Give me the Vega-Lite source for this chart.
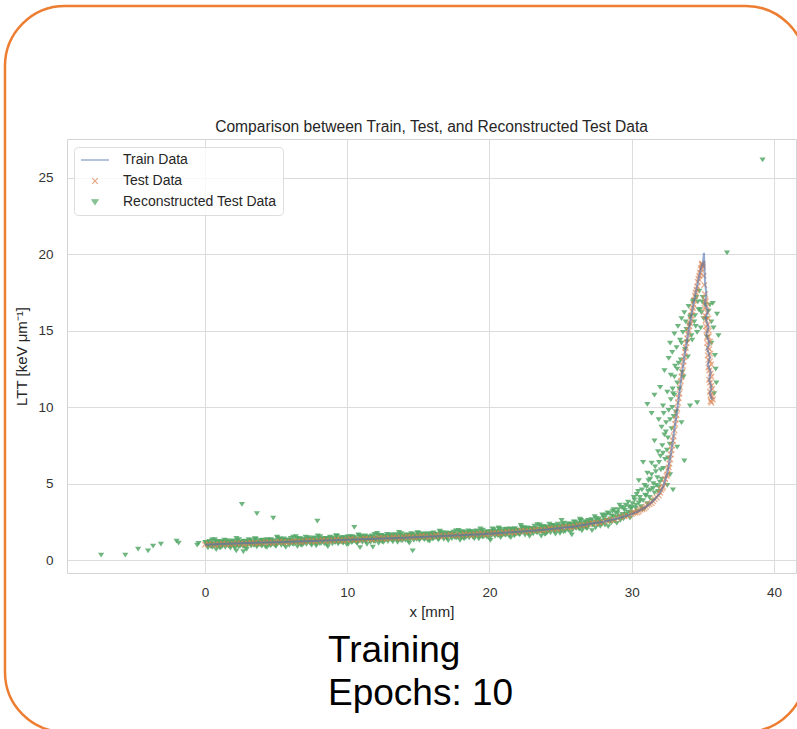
{
"$schema": "https://vega.github.io/schema/vega-lite/v6.json",
"width": 729, "height": 434,
"autosize": {"type": "none"},
"padding": {"left": 67, "top": 139, "right": 1, "bottom": 156},
"background": "white",
"config": {
  "font": "Liberation Sans",
  "view": {"stroke": "#d4d4d4", "strokeWidth": 1},
  "axis": {"grid": true, "gridColor": "#dcdcdc", "gridWidth": 1, "domain": false, "ticks": false, "labelFontSize": 13.5, "labelColor": "#333333", "titleFontSize": 15, "titleFontWeight": "normal", "titleColor": "#262626"}
},
"datasets": {
"train": [{"x":0,"y":1.0},{"x":1,"y":1.04},{"x":2,"y":1.08},{"x":3,"y":1.11},{"x":4,"y":1.14},{"x":5,"y":1.17},{"x":6,"y":1.2},{"x":7,"y":1.23},{"x":8,"y":1.26},{"x":9,"y":1.29},{"x":10,"y":1.32},{"x":11,"y":1.36},{"x":12,"y":1.39},{"x":13,"y":1.43},{"x":14,"y":1.46},{"x":15,"y":1.5},{"x":16,"y":1.54},{"x":17,"y":1.58},{"x":18,"y":1.62},{"x":19,"y":1.67},{"x":20,"y":1.72},{"x":21,"y":1.78},{"x":22,"y":1.85},{"x":23,"y":1.92},{"x":24,"y":2.0},{"x":25,"y":2.1},{"x":26,"y":2.2},{"x":27,"y":2.35},{"x":28,"y":2.5},{"x":29,"y":2.72},{"x":30,"y":3.0},{"x":30.5,"y":3.2},{"x":31,"y":3.48},{"x":31.5,"y":3.85},{"x":32,"y":4.4},{"x":32.25,"y":4.9},{"x":32.5,"y":5.7},{"x":32.75,"y":6.9},{"x":33,"y":8.5},{"x":33.25,"y":10.2},{"x":33.5,"y":12.0},{"x":33.75,"y":13.6},{"x":34,"y":15.0},{"x":34.25,"y":16.3},{"x":34.5,"y":17.5},{"x":34.75,"y":18.6},{"x":34.9,"y":19.2},{"x":35.0,"y":19.4},{"x":35.08,"y":20.1},{"x":35.12,"y":19.0},{"x":35.15,"y":18.2},{"x":35.25,"y":17.4},{"x":35.15,"y":16.8},{"x":35.35,"y":16.3},{"x":35.2,"y":15.8},{"x":35.4,"y":15.2},{"x":35.25,"y":14.8},{"x":35.45,"y":14.2},{"x":35.3,"y":13.8},{"x":35.5,"y":13.3},{"x":35.35,"y":12.8},{"x":35.55,"y":12.3},{"x":35.45,"y":11.8},{"x":35.6,"y":11.3},{"x":35.5,"y":10.9},{"x":35.65,"y":10.5}],
"test": [{"x":0,"y":1.0},{"x":0.5,"y":1.02},{"x":1,"y":1.03},{"x":1.5,"y":1.05},{"x":2,"y":1.06},{"x":2.5,"y":1.08},{"x":3,"y":1.1},{"x":3.5,"y":1.11},{"x":4,"y":1.13},{"x":4.5,"y":1.14},{"x":5,"y":1.16},{"x":5.5,"y":1.18},{"x":6,"y":1.19},{"x":6.5,"y":1.21},{"x":7,"y":1.22},{"x":7.5,"y":1.24},{"x":8,"y":1.26},{"x":8.5,"y":1.27},{"x":9,"y":1.29},{"x":9.5,"y":1.3},{"x":10,"y":1.32},{"x":10.5,"y":1.34},{"x":11,"y":1.36},{"x":11.5,"y":1.38},{"x":12,"y":1.4},{"x":12.5,"y":1.42},{"x":13,"y":1.44},{"x":13.5,"y":1.46},{"x":14,"y":1.48},{"x":14.5,"y":1.5},{"x":15,"y":1.52},{"x":15.5,"y":1.54},{"x":16,"y":1.56},{"x":16.5,"y":1.58},{"x":17,"y":1.6},{"x":17.5,"y":1.62},{"x":18,"y":1.64},{"x":18.5,"y":1.66},{"x":19,"y":1.68},{"x":19.5,"y":1.7},{"x":20,"y":1.72},{"x":20.5,"y":1.75},{"x":21,"y":1.79},{"x":21.5,"y":1.82},{"x":22,"y":1.86},{"x":22.5,"y":1.89},{"x":23,"y":1.93},{"x":23.5,"y":1.96},{"x":24,"y":2.0},{"x":24.5,"y":2.05},{"x":25,"y":2.1},{"x":25.5,"y":2.15},{"x":26,"y":2.2},{"x":26.5,"y":2.27},{"x":27,"y":2.35},{"x":27.5,"y":2.42},{"x":28,"y":2.5},{"x":28.5,"y":2.61},{"x":29,"y":2.73},{"x":29.5,"y":2.86},{"x":30,"y":3.0},
{"x":0.25,"y":1.05},{"x":0.75,"y":0.99},{"x":1.25,"y":1.07},{"x":1.75,"y":1.02},{"x":2.25,"y":1.1},{"x":2.75,"y":1.05},{"x":3.25,"y":1.13},{"x":3.75,"y":1.08},{"x":4.25,"y":1.16},{"x":4.75,"y":1.11},{"x":5.25,"y":1.2},{"x":5.75,"y":1.15},{"x":6.25,"y":1.23},{"x":6.75,"y":1.18},{"x":7.25,"y":1.26},{"x":7.75,"y":1.21},{"x":8.25,"y":1.3},{"x":8.75,"y":1.24},{"x":9.25,"y":1.33},{"x":9.75,"y":1.27},{"x":10.25,"y":1.37},{"x":10.75,"y":1.31},{"x":11.25,"y":1.41},{"x":11.75,"y":1.35},{"x":12.25,"y":1.45},{"x":12.75,"y":1.39},{"x":13.25,"y":1.49},{"x":13.75,"y":1.43},{"x":14.25,"y":1.53},{"x":14.75,"y":1.47},{"x":15.25,"y":1.57},{"x":15.75,"y":1.51},{"x":16.25,"y":1.61},{"x":16.75,"y":1.55},{"x":17.25,"y":1.65},{"x":17.75,"y":1.59},{"x":18.25,"y":1.69},{"x":18.75,"y":1.63},{"x":19.25,"y":1.73},{"x":19.75,"y":1.67},{"x":20.25,"y":1.77},{"x":20.75,"y":1.73},{"x":21.25,"y":1.84},{"x":21.75,"y":1.8},{"x":22.25,"y":1.91},{"x":22.75,"y":1.87},{"x":23.25,"y":1.98},{"x":23.75,"y":1.94},{"x":24.25,"y":2.07},{"x":24.75,"y":2.03},{"x":25.25,"y":2.16},{"x":25.75,"y":2.14},{"x":26.25,"y":2.27},{"x":26.75,"y":2.27},{"x":27.25,"y":2.42},{"x":27.75,"y":2.42},{"x":28.25,"y":2.59},{"x":28.75,"y":2.63},{"x":29.25,"y":2.83},{"x":29.75,"y":2.9},
{"x":30.25,"y":3.1},{"x":30.5,"y":3.2},{"x":30.75,"y":3.33},{"x":31,"y":3.48},{"x":31.25,"y":3.65},{"x":31.5,"y":3.85},{"x":31.75,"y":4.1},{"x":32,"y":4.4},{"x":32.15,"y":4.7},{"x":32.3,"y":5.05},{"x":32.45,"y":5.5},{"x":32.6,"y":6.05},{"x":32.7,"y":6.6},{"x":32.8,"y":7.2},{"x":32.9,"y":7.8},{"x":33.0,"y":8.5},{"x":33.1,"y":9.2},{"x":33.2,"y":9.9},{"x":33.3,"y":10.6},{"x":33.4,"y":11.3},{"x":33.5,"y":12.0},{"x":33.6,"y":12.7},{"x":33.7,"y":13.3},{"x":33.8,"y":13.9},{"x":33.9,"y":14.5},{"x":34.0,"y":15.0},{"x":34.1,"y":15.5},{"x":34.2,"y":16.0},{"x":34.3,"y":16.5},{"x":34.4,"y":17.0},{"x":34.5,"y":17.5},{"x":34.6,"y":17.9},{"x":34.7,"y":18.4},{"x":34.8,"y":18.8},{"x":34.9,"y":19.1},{"x":34.95,"y":19.3},{"x":35.0,"y":19.2},{"x":35.05,"y":18.6},{"x":35.1,"y":18.0},
{"x":30.1,"y":3.1},{"x":30.4,"y":3.12},{"x":30.6,"y":3.3},{"x":30.9,"y":3.38},{"x":31.1,"y":3.6},{"x":31.4,"y":3.72},{"x":31.6,"y":4.0},{"x":31.9,"y":4.22},{"x":32.05,"y":4.6},{"x":32.2,"y":4.8},{"x":32.35,"y":5.3},{"x":32.5,"y":5.6},{"x":32.55,"y":5.9},{"x":32.65,"y":6.3},{"x":32.75,"y":6.9},{"x":32.85,"y":7.5},{"x":32.95,"y":8.1},{"x":33.05,"y":8.9},{"x":33.15,"y":9.5},{"x":33.25,"y":10.3},{"x":33.35,"y":10.9},{"x":33.45,"y":11.7},{"x":33.55,"y":12.3},{"x":33.65,"y":13.0},{"x":33.75,"y":13.6},{"x":33.85,"y":14.2},{"x":33.95,"y":14.8},{"x":34.05,"y":15.3},{"x":34.15,"y":15.7},{"x":34.25,"y":16.3},{"x":34.35,"y":16.7},{"x":34.45,"y":17.3},{"x":34.55,"y":17.7},{"x":34.65,"y":18.2},{"x":34.75,"y":18.6},{"x":34.85,"y":19.0},{"x":34.92,"y":19.4},{"x":34.98,"y":19.35},
{"x":35.15,"y":17.4},{"x":35.2,"y":16.9},{"x":35.12,"y":16.5},{"x":35.3,"y":16.2},{"x":35.2,"y":15.7},{"x":35.35,"y":15.4},{"x":35.25,"y":15.0},{"x":35.4,"y":14.6},{"x":35.3,"y":14.2},{"x":35.45,"y":13.8},{"x":35.35,"y":13.4},{"x":35.5,"y":13.0},{"x":35.4,"y":12.6},{"x":35.55,"y":12.2},{"x":35.45,"y":11.8},{"x":35.6,"y":11.4},{"x":35.5,"y":11.0},{"x":35.65,"y":10.7},{"x":35.55,"y":10.4},
{"x":35.18,"y":17.0},{"x":35.28,"y":16.6},{"x":35.15,"y":16.0},{"x":35.38,"y":15.8},{"x":35.22,"y":15.3},{"x":35.42,"y":15.0},{"x":35.3,"y":14.6},{"x":35.5,"y":14.3},{"x":35.35,"y":13.9},{"x":35.52,"y":13.5},{"x":35.4,"y":13.1},{"x":35.58,"y":12.8},{"x":35.45,"y":12.4},{"x":35.6,"y":12.0},{"x":35.5,"y":11.6},{"x":35.65,"y":11.2},{"x":35.55,"y":10.8},{"x":35.7,"y":10.5},{"x":35.6,"y":10.3}],
"recon": [
{"x":0.07,"y":1.14},{"x":0.21,"y":0.81},{"x":0.36,"y":1.07},{"x":0.5,"y":1.32},{"x":0.64,"y":0.94},{"x":0.79,"y":0.69},{"x":0.93,"y":1.2},
{"x":1.07,"y":1.07},{"x":1.21,"y":0.9},{"x":1.36,"y":1.31},{"x":1.5,"y":1.01},{"x":1.64,"y":1.14},{"x":1.79,"y":0.78},{"x":1.93,"y":1.26},
{"x":2.07,"y":0.97},{"x":2.21,"y":1.43},{"x":2.36,"y":0.89},{"x":2.5,"y":1.15},{"x":2.64,"y":1.06},{"x":2.79,"y":1.22},{"x":2.93,"y":0.7},
{"x":3.07,"y":1.34},{"x":3.21,"y":1.05},{"x":3.36,"y":1.22},{"x":3.5,"y":1.4},{"x":3.64,"y":0.87},{"x":3.79,"y":1.11},{"x":3.93,"y":0.98},
{"x":4.07,"y":1.31},{"x":4.21,"y":1.18},{"x":4.36,"y":0.84},{"x":4.5,"y":1.22},{"x":4.64,"y":1.34},{"x":4.79,"y":1.05},{"x":4.93,"y":0.97},
{"x":5.07,"y":1.5},{"x":5.21,"y":1.19},{"x":5.36,"y":0.96},{"x":5.5,"y":1.31},{"x":5.64,"y":1.13},{"x":5.79,"y":1.3},{"x":5.93,"y":0.97},
{"x":6.07,"y":1.26},{"x":6.21,"y":1.51},{"x":6.36,"y":1.13},{"x":6.5,"y":0.88},{"x":6.64,"y":1.39},{"x":6.79,"y":1.23},{"x":6.93,"y":1.06},
{"x":7.07,"y":1.5},{"x":7.21,"y":1.2},{"x":7.36,"y":1.33},{"x":7.5,"y":0.97},{"x":7.64,"y":1.45},{"x":7.79,"y":1.13},{"x":7.93,"y":1.59},
{"x":8.07,"y":1.08},{"x":8.21,"y":1.34},{"x":8.36,"y":1.25},{"x":8.5,"y":1.41},{"x":8.64,"y":0.89},{"x":8.79,"y":1.5},{"x":8.93,"y":1.21},
{"x":9.07,"y":1.41},{"x":9.21,"y":1.59},{"x":9.36,"y":1.06},{"x":9.5,"y":1.3},{"x":9.64,"y":1.17},{"x":9.79,"y":1.47},{"x":9.93,"y":1.34},
{"x":10.07,"y":1.04},{"x":10.21,"y":1.42},{"x":10.36,"y":1.54},{"x":10.5,"y":1.25},{"x":10.64,"y":1.17},{"x":10.79,"y":1.66},{"x":10.93,"y":1.35},
{"x":11.07,"y":1.16},{"x":11.21,"y":1.51},{"x":11.36,"y":1.33},{"x":11.5,"y":1.5},{"x":11.64,"y":1.17},{"x":11.79,"y":1.43},{"x":11.93,"y":1.68},
{"x":12.07,"y":1.34},{"x":12.21,"y":1.09},{"x":12.36,"y":1.6},{"x":12.5,"y":1.44},{"x":12.64,"y":1.27},{"x":12.79,"y":1.68},{"x":12.93,"y":1.38},
{"x":13.07,"y":1.55},{"x":13.21,"y":1.19},{"x":13.36,"y":1.67},{"x":13.5,"y":1.35},{"x":13.64,"y":1.81},{"x":13.79,"y":1.27},{"x":13.93,"y":1.53},
{"x":14.07,"y":1.48},{"x":14.21,"y":1.64},{"x":14.36,"y":1.12},{"x":14.5,"y":1.73},{"x":14.64,"y":1.44},{"x":14.79,"y":1.61},{"x":14.93,"y":1.79},
{"x":15.07,"y":1.3},{"x":15.21,"y":1.54},{"x":15.36,"y":1.41},{"x":15.5,"y":1.71},{"x":15.64,"y":1.58},{"x":15.79,"y":1.24},{"x":15.93,"y":1.62},
{"x":16.07,"y":1.78},{"x":16.21,"y":1.49},{"x":16.36,"y":1.41},{"x":16.5,"y":1.9},{"x":16.64,"y":1.59},{"x":16.79,"y":1.36},{"x":16.93,"y":1.71},
{"x":17.07,"y":1.57},{"x":17.21,"y":1.74},{"x":17.36,"y":1.41},{"x":17.5,"y":1.67},{"x":17.64,"y":1.92},{"x":17.79,"y":1.54},{"x":17.93,"y":1.29},
{"x":18.07,"y":1.84},{"x":18.21,"y":1.68},{"x":18.36,"y":1.51},{"x":18.5,"y":1.92},{"x":18.64,"y":1.62},{"x":18.79,"y":1.75},{"x":18.93,"y":1.39},
{"x":19.07,"y":1.91},{"x":19.21,"y":1.59},{"x":19.36,"y":2.05},{"x":19.5,"y":1.51},{"x":19.64,"y":1.77},{"x":19.79,"y":1.68},{"x":19.93,"y":1.84},
{"x":20.07,"y":1.3},{"x":20.21,"y":2.04},{"x":20.36,"y":1.69},{"x":20.5,"y":1.89},{"x":20.64,"y":2.11},{"x":20.79,"y":1.47},{"x":20.93,"y":1.76},
{"x":21.07,"y":1.67},{"x":21.21,"y":2.03},{"x":21.36,"y":1.88},{"x":21.5,"y":1.47},{"x":21.64,"y":1.93},{"x":21.79,"y":2.07},{"x":21.93,"y":1.72},
{"x":22.07,"y":1.7},{"x":22.21,"y":2.28},{"x":22.36,"y":1.91},{"x":22.5,"y":1.64},{"x":22.64,"y":2.06},{"x":22.79,"y":1.84},{"x":22.93,"y":2.04},
{"x":23.07,"y":1.72},{"x":23.21,"y":2.03},{"x":23.36,"y":2.33},{"x":23.5,"y":1.87},{"x":23.64,"y":1.57},{"x":23.79,"y":2.19},{"x":23.93,"y":1.99},
{"x":24.07,"y":1.81},{"x":24.21,"y":2.36},{"x":24.36,"y":1.99},{"x":24.5,"y":2.17},{"x":24.64,"y":1.71},{"x":24.79,"y":2.35},{"x":24.93,"y":1.95},
{"x":25.07,"y":2.6},{"x":25.21,"y":1.85},{"x":25.36,"y":2.24},{"x":25.5,"y":2.12},{"x":25.64,"y":2.36},{"x":25.79,"y":1.65},{"x":25.93,"y":2.51},
{"x":26.07,"y":2.12},{"x":26.21,"y":2.4},{"x":26.36,"y":2.69},{"x":26.5,"y":1.92},{"x":26.64,"y":2.3},{"x":26.79,"y":2.12},{"x":26.93,"y":2.6},
{"x":27.07,"y":2.42},{"x":27.21,"y":1.93},{"x":27.36,"y":2.52},{"x":27.5,"y":2.73},{"x":27.64,"y":2.31},{"x":27.79,"y":2.21},{"x":27.93,"y":2.97},
{"x":0.14,"y":0.98},{"x":0.29,"y":1.11},{"x":0.43,"y":0.87},{"x":0.57,"y":1.03},{"x":0.71,"y":1.24},{"x":0.86,"y":0.9},{"x":1.0,"y":0.96},
{"x":1.14,"y":1.19},{"x":1.29,"y":1.11},{"x":1.43,"y":0.84},{"x":1.57,"y":1.08},{"x":1.71,"y":1.17},{"x":1.86,"y":0.96},{"x":2.0,"y":1.05},
{"x":2.14,"y":0.91},{"x":2.29,"y":1.28},{"x":2.43,"y":1.16},{"x":2.57,"y":1.04},{"x":2.71,"y":1.24},{"x":2.86,"y":0.81},{"x":3.0,"y":1.18},
{"x":3.14,"y":1.1},{"x":3.29,"y":1.16},{"x":3.43,"y":0.98},{"x":3.57,"y":1.36},{"x":3.71,"y":1.03},{"x":3.86,"y":1.26},{"x":4.0,"y":0.92},
{"x":4.14,"y":1.2},{"x":4.29,"y":1.11},{"x":4.43,"y":1.32},{"x":4.57,"y":1.03},{"x":4.71,"y":1.15},{"x":4.86,"y":1.27},{"x":5.0,"y":0.91},
{"x":5.14,"y":1.12},{"x":5.29,"y":1.39},{"x":5.43,"y":1.22},{"x":5.57,"y":1.03},{"x":5.71,"y":1.26},{"x":5.86,"y":1.14},{"x":6.0,"y":1.27},
{"x":6.14,"y":1.06},{"x":6.29,"y":1.22},{"x":6.43,"y":1.43},{"x":6.57,"y":1.09},{"x":6.71,"y":1.15},{"x":6.86,"y":1.35},{"x":7.0,"y":1.27},
{"x":7.14,"y":1.03},{"x":7.29,"y":1.27},{"x":7.43,"y":1.36},{"x":7.57,"y":1.15},{"x":7.71,"y":1.24},{"x":7.86,"y":1.07},{"x":8.0,"y":1.44},
{"x":8.14,"y":1.35},{"x":8.29,"y":1.23},{"x":8.43,"y":1.43},{"x":8.57,"y":1.0},{"x":8.71,"y":1.37},{"x":8.86,"y":1.26},{"x":9.0,"y":1.32},
{"x":9.14,"y":1.17},{"x":9.29,"y":1.55},{"x":9.43,"y":1.22},{"x":9.57,"y":1.45},{"x":9.71,"y":1.11},{"x":9.86,"y":1.36},{"x":10.0,"y":1.27},
{"x":10.14,"y":1.52},{"x":10.29,"y":1.23},{"x":10.43,"y":1.35},{"x":10.57,"y":1.47},{"x":10.71,"y":1.11},{"x":10.86,"y":1.28},{"x":11.0,"y":1.55},
{"x":11.14,"y":1.42},{"x":11.29,"y":1.23},{"x":11.43,"y":1.46},{"x":11.57,"y":1.34},{"x":11.71,"y":1.47},{"x":11.86,"y":1.23},{"x":12.0,"y":1.39},
{"x":12.14,"y":1.64},{"x":12.29,"y":1.3},{"x":12.43,"y":1.36},{"x":12.57,"y":1.56},{"x":12.71,"y":1.48},{"x":12.86,"y":1.21},{"x":13.0,"y":1.45},
{"x":13.14,"y":1.58},{"x":13.29,"y":1.37},{"x":13.43,"y":1.46},{"x":13.57,"y":1.29},{"x":13.71,"y":1.66},{"x":13.86,"y":1.54},{"x":14.0,"y":1.42},
{"x":14.14,"y":1.66},{"x":14.29,"y":1.23},{"x":14.43,"y":1.6},{"x":14.57,"y":1.49},{"x":14.71,"y":1.55},{"x":14.86,"y":1.37},{"x":15.0,"y":1.75},
{"x":15.14,"y":1.46},{"x":15.29,"y":1.69},{"x":15.43,"y":1.35},{"x":15.57,"y":1.6},{"x":15.71,"y":1.51},{"x":15.86,"y":1.72},{"x":16.0,"y":1.43},
{"x":16.14,"y":1.59},{"x":16.29,"y":1.71},{"x":16.43,"y":1.35},{"x":16.57,"y":1.52},{"x":16.71,"y":1.79},{"x":16.86,"y":1.62},{"x":17.0,"y":1.43},
{"x":17.14,"y":1.7},{"x":17.29,"y":1.58},{"x":17.43,"y":1.71},{"x":17.57,"y":1.47},{"x":17.71,"y":1.63},{"x":17.86,"y":1.84},{"x":18.0,"y":1.5},
{"x":18.14,"y":1.6},{"x":18.29,"y":1.8},{"x":18.43,"y":1.72},{"x":18.57,"y":1.45},{"x":18.71,"y":1.69},{"x":18.86,"y":1.78},{"x":19.0,"y":1.57},
{"x":19.14,"y":1.7},{"x":19.29,"y":1.53},{"x":19.43,"y":1.9},{"x":19.57,"y":1.78},{"x":19.71,"y":1.66},{"x":19.86,"y":1.86},{"x":20.0,"y":1.43},
{"x":20.14,"y":1.86},{"x":20.29,"y":1.75},{"x":20.43,"y":1.81},{"x":20.57,"y":1.63},{"x":20.71,"y":2.01},{"x":20.86,"y":1.68},{"x":21.0,"y":1.91},
{"x":21.14,"y":1.64},{"x":21.29,"y":1.89},{"x":21.43,"y":1.8},{"x":21.57,"y":2.01},{"x":21.71,"y":1.72},{"x":21.86,"y":1.84},{"x":22.0,"y":1.96},
{"x":22.14,"y":1.67},{"x":22.29,"y":1.84},{"x":22.43,"y":2.11},{"x":22.57,"y":1.94},{"x":22.71,"y":1.75},{"x":22.86,"y":1.98},{"x":23.0,"y":1.86},
{"x":23.14,"y":2.06},{"x":23.29,"y":1.82},{"x":23.43,"y":1.98},{"x":23.57,"y":2.19},{"x":23.71,"y":1.85},{"x":23.86,"y":1.91},{"x":24.0,"y":2.11},
{"x":24.14,"y":2.08},{"x":24.29,"y":1.78},{"x":24.43,"y":2.08},{"x":24.57,"y":2.2},{"x":24.71,"y":1.96},{"x":24.86,"y":2.09},{"x":25.0,"y":1.9},
{"x":25.14,"y":2.37},{"x":25.29,"y":2.23},{"x":25.43,"y":2.09},{"x":25.57,"y":2.37},{"x":25.71,"y":1.82},{"x":25.86,"y":2.32},{"x":26.0,"y":2.19},
{"x":26.14,"y":2.29},{"x":26.29,"y":2.06},{"x":26.43,"y":2.61},{"x":26.57,"y":2.18},{"x":26.71,"y":2.52},{"x":26.86,"y":2.06},{"x":27.0,"y":2.43},
{"x":0.03,"y":1.15},{"x":0.17,"y":0.95},{"x":0.32,"y":1.23},{"x":0.46,"y":0.91},{"x":0.6,"y":1.06},{"x":0.75,"y":1.01},{"x":0.89,"y":1.1},
{"x":1.03,"y":0.82},{"x":1.17,"y":1.19},{"x":1.32,"y":1.01},{"x":1.46,"y":1.12},{"x":1.6,"y":1.22},{"x":1.75,"y":0.91},{"x":1.89,"y":1.05},
{"x":2.03,"y":1.0},{"x":2.17,"y":1.18},{"x":2.32,"y":1.1},{"x":2.46,"y":0.9},{"x":2.6,"y":1.13},{"x":2.75,"y":1.2},{"x":2.89,"y":1.03},
{"x":3.03,"y":1.01},{"x":3.17,"y":1.3},{"x":3.32,"y":1.12},{"x":3.46,"y":0.98},{"x":3.6,"y":1.19},{"x":3.75,"y":1.08},{"x":3.89,"y":1.18},
{"x":4.03,"y":1.01},{"x":4.17,"y":1.17},{"x":4.32,"y":1.32},{"x":4.46,"y":1.09},{"x":4.6,"y":0.94},{"x":4.75,"y":1.25},{"x":4.89,"y":1.15},
{"x":5.03,"y":1.09},{"x":5.17,"y":1.34},{"x":5.32,"y":1.16},{"x":5.46,"y":1.23},{"x":5.6,"y":1.02},{"x":5.75,"y":1.31},{"x":5.89,"y":1.11},
{"x":6.03,"y":1.42},{"x":6.17,"y":1.1},{"x":6.32,"y":1.25},{"x":6.46,"y":1.2},{"x":6.6,"y":1.29},{"x":6.75,"y":0.98},{"x":6.89,"y":1.35},
{"x":7.03,"y":1.2},{"x":7.17,"y":1.31},{"x":7.32,"y":1.41},{"x":7.46,"y":1.1},{"x":7.6,"y":1.24},{"x":7.75,"y":1.16},{"x":7.89,"y":1.34},
{"x":8.03,"y":1.29},{"x":8.17,"y":1.09},{"x":8.32,"y":1.32},{"x":8.46,"y":1.39},{"x":8.6,"y":1.22},{"x":8.75,"y":1.17},{"x":8.89,"y":1.46},
{"x":9.03,"y":1.31},{"x":9.17,"y":1.17},{"x":9.32,"y":1.38},{"x":9.46,"y":1.27},{"x":9.6,"y":1.37},{"x":9.75,"y":1.17},{"x":9.89,"y":1.33},
{"x":10.03,"y":1.52},{"x":10.17,"y":1.29},{"x":10.32,"y":1.14},{"x":10.46,"y":1.45},{"x":10.6,"y":1.35},{"x":10.75,"y":1.25},{"x":10.89,"y":1.5},
{"x":11.03,"y":1.36},{"x":11.17,"y":1.43},{"x":11.32,"y":1.22},{"x":11.46,"y":1.51},{"x":11.6,"y":1.31},{"x":11.75,"y":1.59},{"x":11.89,"y":1.27},
{"x":12.03,"y":1.46},{"x":12.17,"y":1.41},{"x":12.32,"y":1.5},{"x":12.46,"y":1.19},{"x":12.6,"y":1.56},{"x":12.75,"y":1.38},{"x":12.89,"y":1.49},
{"x":13.03,"y":1.63},{"x":13.17,"y":1.32},{"x":13.32,"y":1.46},{"x":13.46,"y":1.38},{"x":13.6,"y":1.56},{"x":13.75,"y":1.48},{"x":13.89,"y":1.28},
{"x":14.03,"y":1.55},{"x":14.17,"y":1.62},{"x":14.32,"y":1.45},{"x":14.46,"y":1.4},{"x":14.6,"y":1.69},{"x":14.75,"y":1.51},{"x":14.89,"y":1.37},
{"x":15.03,"y":1.62},{"x":15.17,"y":1.51},{"x":15.32,"y":1.61},{"x":15.46,"y":1.41},{"x":15.6,"y":1.57},{"x":15.75,"y":1.72},{"x":15.89,"y":1.49},
{"x":16.03,"y":1.38},{"x":16.17,"y":1.69},{"x":16.32,"y":1.59},{"x":16.46,"y":1.49},{"x":16.6,"y":1.74},{"x":16.75,"y":1.56},{"x":16.89,"y":1.63},
{"x":17.03,"y":1.46},{"x":17.17,"y":1.75},{"x":17.32,"y":1.55},{"x":17.46,"y":1.83},{"x":17.6,"y":1.51},{"x":17.75,"y":1.66},{"x":17.89,"y":1.61},
{"x":18.03,"y":1.74},{"x":18.17,"y":1.43},{"x":18.32,"y":1.8},{"x":18.46,"y":1.62},{"x":18.6,"y":1.73},{"x":18.75,"y":1.83},{"x":18.89,"y":1.52},
{"x":19.03,"y":1.7},{"x":19.17,"y":1.62},{"x":19.32,"y":1.8},{"x":19.46,"y":1.72},{"x":19.6,"y":1.52},{"x":19.75,"y":1.75},{"x":19.89,"y":1.82},
{"x":20.03,"y":1.7},{"x":20.17,"y":1.64},{"x":20.32,"y":1.99},{"x":20.46,"y":1.77},{"x":20.6,"y":1.6},{"x":20.75,"y":1.86},{"x":20.89,"y":1.72},
{"x":21.03,"y":1.91},{"x":21.17,"y":1.67},{"x":21.32,"y":1.87},{"x":21.46,"y":2.05},{"x":21.6,"y":1.77},{"x":21.75,"y":1.59},{"x":21.89,"y":1.96},
{"x":22.03,"y":1.91},{"x":22.17,"y":1.79},{"x":22.32,"y":2.09},{"x":22.46,"y":1.88},{"x":22.6,"y":1.96},{"x":22.75,"y":1.71},{"x":22.89,"y":2.06},
{"x":23.03,"y":1.89},{"x":23.17,"y":2.22},{"x":23.32,"y":1.84},{"x":23.46,"y":2.02},{"x":23.6,"y":1.96},{"x":23.75,"y":2.07},{"x":23.89,"y":1.69},
{"x":24.03,"y":2.18},{"x":24.17,"y":1.97},{"x":24.32,"y":2.12},{"x":24.46,"y":2.27},{"x":24.6,"y":1.88},{"x":24.75,"y":2.08},{"x":24.89,"y":1.99},
{"x":25.03,"y":2.24},{"x":25.17,"y":2.15},{"x":25.32,"y":1.88},{"x":25.46,"y":2.22},{"x":25.6,"y":2.33},{"x":25.75,"y":2.11},{"x":25.89,"y":2.05},
{"x":26.03,"y":2.49},{"x":26.17,"y":2.25},{"x":26.32,"y":2.05},{"x":26.46,"y":2.39},{"x":26.6,"y":2.24},{"x":26.75,"y":2.42},{"x":26.89,"y":2.13},
{"x":27.03,"y":2.4},{"x":27.17,"y":2.65},{"x":27.32,"y":2.32},{"x":27.46,"y":2.12},{"x":27.6,"y":2.61},{"x":27.75,"y":2.48},{"x":27.89,"y":2.34},
{"x":0.1,"y":1.15},{"x":0.25,"y":1.01},{"x":0.39,"y":1.09},{"x":0.54,"y":0.85},{"x":0.68,"y":1.35},{"x":0.82,"y":0.92},{"x":0.96,"y":1.22},
{"x":1.1,"y":0.8},{"x":1.25,"y":1.13},{"x":1.39,"y":1.01},{"x":1.54,"y":1.28},{"x":1.68,"y":0.91},{"x":1.82,"y":1.06},{"x":1.96,"y":1.22},
{"x":2.1,"y":0.78},{"x":2.25,"y":1.0},{"x":2.39,"y":1.35},{"x":2.54,"y":1.13},{"x":2.68,"y":0.88},{"x":2.82,"y":1.18},{"x":2.96,"y":1.03},
{"x":3.1,"y":1.23},{"x":3.25,"y":0.91},{"x":3.39,"y":1.12},{"x":3.54,"y":1.4},{"x":3.68,"y":0.95},{"x":3.82,"y":1.03},{"x":3.96,"y":1.29},
{"x":4.1,"y":1.22},{"x":4.25,"y":0.87},{"x":4.39,"y":1.18},{"x":4.54,"y":1.3},{"x":4.68,"y":1.02},{"x":4.82,"y":1.14},{"x":4.96,"y":0.92},
{"x":5.1,"y":1.44},{"x":5.25,"y":1.28},{"x":5.39,"y":1.13},{"x":5.54,"y":1.39},{"x":5.68,"y":0.83},{"x":5.82,"y":1.31},{"x":5.96,"y":1.17},
{"x":6.1,"y":1.28},{"x":6.25,"y":1.04},{"x":6.39,"y":1.54},{"x":6.54,"y":1.11},{"x":6.68,"y":1.41},{"x":6.82,"y":0.96},{"x":6.96,"y":1.29},
{"x":7.1,"y":1.2},{"x":7.25,"y":1.47},{"x":7.39,"y":1.1},{"x":7.54,"y":1.25},{"x":7.68,"y":1.41},{"x":7.82,"y":0.94},{"x":7.96,"y":1.16},
{"x":8.1,"y":1.54},{"x":8.25,"y":1.32},{"x":8.39,"y":1.07},{"x":8.54,"y":1.37},{"x":8.68,"y":1.22},{"x":8.82,"y":1.39},{"x":8.96,"y":1.07},
{"x":9.1,"y":1.31},{"x":9.25,"y":1.59},{"x":9.39,"y":1.14},{"x":9.54,"y":1.22},{"x":9.68,"y":1.48},{"x":9.82,"y":1.38},{"x":9.96,"y":1.03},
{"x":10.1,"y":1.38},{"x":10.25,"y":1.5},{"x":10.39,"y":1.22},{"x":10.54,"y":1.34},{"x":10.68,"y":1.12},{"x":10.82,"y":1.6},{"x":10.96,"y":1.44},
{"x":11.1,"y":1.33},{"x":11.25,"y":1.59},{"x":11.39,"y":1.03},{"x":11.54,"y":1.51},{"x":11.68,"y":1.37},{"x":11.82,"y":1.45},{"x":11.96,"y":1.21},
{"x":12.1,"y":1.75},{"x":12.25,"y":1.32},{"x":12.39,"y":1.62},{"x":12.54,"y":1.17},{"x":12.68,"y":1.5},{"x":12.82,"y":1.38},{"x":12.96,"y":1.65},
{"x":13.1,"y":1.32},{"x":13.25,"y":1.47},{"x":13.39,"y":1.63},{"x":13.54,"y":1.16},{"x":13.68,"y":1.38},{"x":13.82,"y":1.73},{"x":13.96,"y":1.51},
{"x":14.1,"y":1.3},{"x":14.25,"y":1.6},{"x":14.39,"y":1.45},{"x":14.54,"y":1.62},{"x":14.68,"y":1.3},{"x":14.82,"y":1.51},{"x":14.96,"y":1.79},
{"x":15.1,"y":1.38},{"x":15.25,"y":1.46},{"x":15.39,"y":1.72},{"x":15.54,"y":1.62},{"x":15.68,"y":1.27},{"x":15.82,"y":1.58},{"x":15.96,"y":1.7},
{"x":16.1,"y":1.46},{"x":16.25,"y":1.58},{"x":16.39,"y":1.36},{"x":16.54,"y":1.84},{"x":16.68,"y":1.68},{"x":16.82,"y":1.53},{"x":16.96,"y":1.79},
{"x":17.1,"y":1.27},{"x":17.25,"y":1.75},{"x":17.39,"y":1.61},{"x":17.54,"y":1.69},{"x":17.68,"y":1.45},{"x":17.82,"y":1.95},{"x":17.96,"y":1.52},
{"x":18.1,"y":1.86},{"x":18.25,"y":1.41},{"x":18.39,"y":1.74},{"x":18.54,"y":1.62},{"x":18.68,"y":1.89},{"x":18.82,"y":1.52},{"x":18.96,"y":1.67},
{"x":19.1,"y":1.87},{"x":19.25,"y":1.4},{"x":19.39,"y":1.62},{"x":19.54,"y":1.97},{"x":19.68,"y":1.75},{"x":19.82,"y":1.5},{"x":19.96,"y":1.8},
{"x":20.1,"y":1.71},{"x":20.25,"y":1.88},{"x":20.39,"y":1.56},{"x":20.54,"y":1.77},{"x":20.68,"y":2.05},{"x":20.82,"y":1.6},{"x":20.96,"y":1.68},
{"x":21.1,"y":2.01},{"x":21.25,"y":1.91},{"x":21.39,"y":1.56},{"x":21.54,"y":1.87},{"x":21.68,"y":1.99},{"x":21.82,"y":1.71},{"x":21.96,"y":1.83},
{"x":22.1,"y":1.68},{"x":22.25,"y":2.16},{"x":22.39,"y":2.0},{"x":22.54,"y":1.85},{"x":22.68,"y":2.11},{"x":22.82,"y":1.55},{"x":22.96,"y":2.03},
{"x":23.1,"y":1.96},{"x":23.25,"y":2.04},{"x":23.39,"y":1.8},{"x":23.54,"y":2.3},{"x":23.68,"y":1.87},{"x":23.82,"y":2.17},{"x":23.96,"y":1.72},
{"x":24.1,"y":2.13},{"x":24.25,"y":2.01},{"x":24.39,"y":2.28},{"x":24.54,"y":1.91},{"x":24.68,"y":2.06},{"x":24.82,"y":2.22},{"x":24.96,"y":1.75},
{"x":25.1,"y":2.07},{"x":25.25,"y":2.42},{"x":25.39,"y":2.2},{"x":25.54,"y":1.95},{"x":25.68,"y":2.25},{"x":25.82,"y":2.1},{"x":25.96,"y":2.27},
{"x":26.1,"y":2.08},{"x":26.25,"y":2.29},{"x":26.39,"y":2.57},{"x":26.54,"y":2.12},{"x":26.68,"y":2.2},{"x":26.82,"y":2.46},{"x":26.96,"y":2.36},
{"x":27.1,"y":2.6},{"x":27.25,"y":2.3},{"x":27.4,"y":2.85},{"x":27.55,"y":2.45},{"x":27.7,"y":2.7},{"x":27.85,"y":2.55},{"x":28.0,"y":2.9},{"x":28.15,"y":2.6},{"x":28.3,"y":3.1},{"x":28.45,"y":2.5},{"x":28.6,"y":2.9},{"x":28.75,"y":3.3},{"x":28.9,"y":2.8},{"x":29.0,"y":3.1},{"x":29.15,"y":3.6},{"x":29.3,"y":2.8},{"x":29.45,"y":3.4},{"x":29.6,"y":3.0},{"x":29.75,"y":3.8},{"x":29.9,"y":3.1},{"x":30.0,"y":3.45},{"x":30.15,"y":4.1},{"x":30.3,"y":3.6},{"x":30.45,"y":4.5},{"x":30.6,"y":3.9},{"x":30.75,"y":3.3},{"x":30.9,"y":4.9},{"x":31.0,"y":4.2},{"x":31.15,"y":4.5},{"x":31.3,"y":5.3},{"x":31.5,"y":4.7},{"x":31.7,"y":5.8},{"x":31.9,"y":4.8},{"x":32.05,"y":5.9},{"x":32.2,"y":7.0},{"x":32.4,"y":8.4},{"x":32.55,"y":6.7},{"x":32.7,"y":9.2},{"x":32.85,"y":10.0},{"x":33.0,"y":10.8},{"x":33.1,"y":9.7},{"x":33.2,"y":12.5},{"x":33.35,"y":11.2},{"x":33.5,"y":14.2},{"x":33.65,"y":12.0},{"x":33.8,"y":15.6},{"x":33.95,"y":13.3},{"x":34.1,"y":15.9},{"x":34.25,"y":14.4},{"x":34.35,"y":17.0},{"x":34.5,"y":15.3},{"x":34.65,"y":16.9},{"x":34.75,"y":17.6},{"x":34.9,"y":16.2},{"x":35.0,"y":17.2},{"x":35.25,"y":15.8},{"x":35.4,"y":16.3},{"x":35.6,"y":14.2},{"x":35.75,"y":15.2},{"x":35.85,"y":13.4},{"x":36.0,"y":16.1},{"x":35.95,"y":11.6},
{"x":30.8,"y":6.4},{"x":31.85,"y":7.1},{"x":32.1,"y":8.7},{"x":31.4,"y":6.35},{"x":31.1,"y":5.7},{"x":31.6,"y":7.8},{"x":30.5,"y":5.2},{"x":32.25,"y":9.6},
{"x":28.05,"y":2.75},{"x":28.12,"y":2.3},{"x":28.2,"y":2.95},{"x":28.28,"y":2.6},{"x":28.35,"y":2.2},{"x":28.42,"y":3.05},{"x":28.5,"y":2.7},{"x":28.58,"y":2.45},{"x":28.65,"y":3.2},{"x":28.72,"y":2.85},{"x":28.8,"y":2.55},{"x":28.88,"y":3.1},{"x":28.95,"y":2.4},
{"x":29.05,"y":3.3},{"x":29.12,"y":2.9},{"x":29.2,"y":2.6},{"x":29.28,"y":3.45},{"x":29.35,"y":3.0},{"x":29.42,"y":2.7},{"x":29.5,"y":3.25},{"x":29.58,"y":3.6},{"x":29.65,"y":2.9},{"x":29.72,"y":3.15},{"x":29.8,"y":3.5},{"x":29.88,"y":2.75},{"x":29.95,"y":3.35},
{"x":30.05,"y":3.7},{"x":30.12,"y":3.1},{"x":30.2,"y":3.95},{"x":30.28,"y":3.4},{"x":30.35,"y":4.3},{"x":30.42,"y":3.2},{"x":30.5,"y":3.75},{"x":30.58,"y":4.1},{"x":30.65,"y":3.5},{"x":30.72,"y":4.6},{"x":30.8,"y":3.9},{"x":30.88,"y":3.35},{"x":30.95,"y":4.25},
{"x":31.05,"y":4.8},{"x":31.1,"y":3.7},{"x":31.18,"y":5.2},{"x":31.25,"y":4.1},{"x":31.32,"y":4.6},{"x":31.4,"y":5.6},{"x":31.45,"y":3.9},{"x":31.52,"y":5.0},{"x":31.6,"y":4.4},{"x":31.65,"y":6.1},{"x":31.72,"y":4.9},{"x":31.8,"y":5.4},{"x":31.85,"y":4.5},{"x":31.92,"y":6.4},{"x":31.98,"y":5.1},
{"x":32.02,"y":6.8},{"x":32.1,"y":5.3},{"x":32.15,"y":7.5},{"x":32.22,"y":6.0},{"x":32.3,"y":8.2},{"x":32.35,"y":6.6},{"x":32.42,"y":9.0},{"x":32.48,"y":7.2},{"x":32.55,"y":8.0},{"x":32.6,"y":9.8},{"x":32.68,"y":7.6},{"x":32.75,"y":10.5},{"x":32.8,"y":8.6},{"x":32.88,"y":11.2},{"x":32.95,"y":9.4},{"x":33.0,"y":12.0},
{"x":32.7,"y":5.6},{"x":32.9,"y":4.6},{"x":33.7,"y":6.5},{"x":33.2,"y":7.4},{"x":32.5,"y":4.9},{"x":34.1,"y":10.1},{"x":34.6,"y":10.3},{"x":33.5,"y":9.0},
{"x":31.1,"y":10.2},{"x":31.4,"y":9.6},{"x":31.6,"y":10.8},{"x":31.9,"y":9.2},{"x":32.0,"y":11.3},{"x":32.2,"y":10.1},{"x":32.3,"y":12.4},{"x":32.5,"y":11.0},{"x":32.6,"y":13.2},{"x":32.7,"y":14.2},{"x":32.75,"y":12.1},{"x":32.85,"y":13.6},{"x":32.9,"y":10.9},{"x":33.0,"y":14.8},{"x":33.05,"y":12.7},{"x":33.15,"y":13.9},{"x":33.2,"y":11.6},{"x":33.25,"y":15.3},{"x":33.3,"y":12.9},{"x":33.4,"y":14.4},{"x":33.45,"y":13.1},{"x":33.5,"y":15.8},{"x":33.55,"y":12.3},{"x":33.6,"y":14.9},{"x":33.7,"y":16.2},{"x":33.75,"y":13.8},{"x":33.85,"y":15.1},{"x":33.9,"y":14.3},{"x":34.0,"y":16.6},{"x":34.05,"y":15.4},{"x":34.15,"y":16.0},{"x":34.2,"y":14.7},{"x":34.3,"y":16.9},{"x":34.4,"y":15.6},{"x":34.45,"y":16.0},{"x":34.55,"y":17.2},{"x":34.6,"y":14.9},{"x":34.7,"y":16.4},{"x":34.8,"y":16.4},{"x":34.85,"y":15.2},{"x":34.95,"y":16.9},{"x":35.05,"y":15.8},{"x":35.15,"y":16.7},{"x":35.3,"y":14.6},{"x":35.5,"y":16.7},{"x":35.7,"y":16.8},{"x":35.6,"y":15.6},{"x":36.1,"y":14.7},{"x":35.9,"y":12.5},{"x":35.8,"y":10.9},
{"x":-7.3,"y":0.33},{"x":-5.6,"y":0.33},{"x":-4.7,"y":0.72},{"x":-4.0,"y":0.6},{"x":-3.65,"y":0.92},{"x":-3.1,"y":1.05},{"x":-2.0,"y":1.25},{"x":-1.85,"y":1.12},{"x":-0.55,"y":0.98},{"x":-0.45,"y":1.1},
{"x":2.6,"y":3.65},{"x":3.65,"y":3.05},{"x":4.8,"y":2.75},{"x":7.9,"y":2.55},{"x":10.5,"y":2.15},{"x":2.2,"y":0.6},{"x":2.7,"y":0.55},{"x":11.8,"y":0.85},{"x":14.6,"y":0.6},{"x":10.9,"y":0.82},{"x":36.7,"y":20.1},{"x":39.2,"y":26.2}
]
},
"layer": [
{
  "data": {"values": [{}]},
  "mark": {"type": "rect", "fill": "transparent", "stroke": "#ED7D31", "strokeWidth": 2.5, "cornerRadius": 60, "clip": false},
  "encoding": {
    "x": {"datum": -14.06, "type": "quantitative", "scale": {"domain": [-9.7, 41.55], "nice": false, "zero": false}},
    "x2": {"datum": 42.25},
    "y": {"datum": 36.25, "type": "quantitative", "scale": {"domain": [-0.85, 27.55], "nice": false, "zero": false}},
    "y2": {"datum": -11.25}
  }
},
{
  "data": {"name": "recon"},
  "mark": {"type": "point", "filled": true, "opacity": 0.85, "size": 784, "strokeWidth": 0},
  "encoding": {
    "x": {"field": "x", "type": "quantitative", "scale": {"domain": [-9.7, 41.55], "nice": false, "zero": false}, "axis": {"title": "x [mm]", "values": [0,10,20,30,40], "labelPadding": 12, "titlePadding": 6, "labelFlush": false}},
    "y": {"field": "y", "type": "quantitative", "scale": {"domain": [-0.85, 27.55], "nice": false, "zero": false}, "axis": {"title": "LTT [keV μm⁻¹]", "values": [0,5,10,15,20,25], "labelPadding": 14, "titlePadding": 8}},
    "color": {"datum": "Reconstructed Test Data", "scale": {"domain": ["Train Data", "Test Data", "Reconstructed Test Data"], "range": ["#4C72B0", "#DD8452", "#55A868"]},
      "legend": {"title": null, "orient": "none", "legendX": 7, "legendY": 8, "symbolSize": 784, "clipHeight": 14, "rowPadding": 7, "labelFontSize": 14, "labelColor": "#262626", "labelOffset": 13, "padding": 6, "strokeColor": "#dddddd", "fillColor": "rgba(255,255,255,0.8)", "cornerRadius": 4, "symbolStrokeWidth": 1.2, "symbolOpacity": 0.7,
        "encode": {"symbols": {"update": {"fill": {"scale": "color", "field": "value"}, "stroke": {"scale": "color", "field": "value"}}}}}},
    "shape": {"datum": "Reconstructed Test Data", "scale": {"domain": ["Train Data", "Test Data", "Reconstructed Test Data"], "range": ["M-1,0L1,0", "M-0.2,-0.2L0.2,0.2M-0.2,0.2L0.2,-0.2", "M-0.22,-0.16L0.22,-0.16L0,0.18Z"]},
      "legend": {"title": null, "orient": "none", "legendX": 7, "legendY": 8, "symbolSize": 784, "clipHeight": 14, "rowPadding": 7, "labelFontSize": 14, "labelColor": "#262626", "labelOffset": 13, "padding": 6, "strokeColor": "#dddddd", "fillColor": "rgba(255,255,255,0.8)", "cornerRadius": 4, "symbolStrokeWidth": 1.2, "symbolOpacity": 0.7}}
  }
},
{
  "data": {"name": "test"},
  "mark": {"type": "point", "filled": false, "opacity": 0.6, "size": 784, "strokeWidth": 1.4},
  "encoding": {
    "x": {"field": "x", "type": "quantitative", "scale": {"domain": [-9.7, 41.55], "nice": false, "zero": false}, "axis": {"title": "x [mm]", "values": [0,10,20,30,40], "labelPadding": 12, "titlePadding": 6, "labelFlush": false}},
    "y": {"field": "y", "type": "quantitative", "scale": {"domain": [-0.85, 27.55], "nice": false, "zero": false}, "axis": {"title": "LTT [keV μm⁻¹]", "values": [0,5,10,15,20,25], "labelPadding": 14, "titlePadding": 8}},
    "color": {"datum": "Test Data"},
    "shape": {"datum": "Test Data"}
  }
},
{
  "data": {"name": "train"},
  "mark": {"type": "line", "strokeWidth": 2, "opacity": 0.6},
  "encoding": {
    "x": {"field": "x", "type": "quantitative", "scale": {"domain": [-9.7, 41.55], "nice": false, "zero": false}, "axis": {"title": "x [mm]", "values": [0,10,20,30,40], "labelPadding": 12, "titlePadding": 6, "labelFlush": false}},
    "y": {"field": "y", "type": "quantitative", "scale": {"domain": [-0.85, 27.55], "nice": false, "zero": false}, "axis": {"title": "LTT [keV μm⁻¹]", "values": [0,5,10,15,20,25], "labelPadding": 14, "titlePadding": 8}},
    "color": {"datum": "Train Data"},
    "order": {"value": null}
  }
},
{
  "data": {"values": [{}]},
  "mark": {"type": "text", "align": "center", "baseline": "alphabetic", "fontSize": 15.6, "color": "#262626", "font": "Liberation Sans", "clip": false, "text": "Comparison between Train, Test, and Reconstructed Test Data"},
  "encoding": {
    "x": {"datum": 15.93, "type": "quantitative", "scale": {"domain": [-9.7, 41.55], "nice": false, "zero": false}},
    "y": {"datum": 28.01, "type": "quantitative", "scale": {"domain": [-0.85, 27.55], "nice": false, "zero": false}}
  }
},
{
  "data": {"values": [{}]},
  "mark": {"type": "text", "align": "left", "baseline": "alphabetic", "fontSize": 37, "lineHeight": 43, "color": "#000000", "font": "Liberation Sans", "clip": false, "text": ["Training", "Epochs: 10"]},
  "encoding": {
    "x": {"datum": 8.65, "type": "quantitative", "scale": {"domain": [-9.7, 41.55], "nice": false, "zero": false}},
    "y": {"datum": -6.67, "type": "quantitative", "scale": {"domain": [-0.85, 27.55], "nice": false, "zero": false}}
  }
}
]
}
